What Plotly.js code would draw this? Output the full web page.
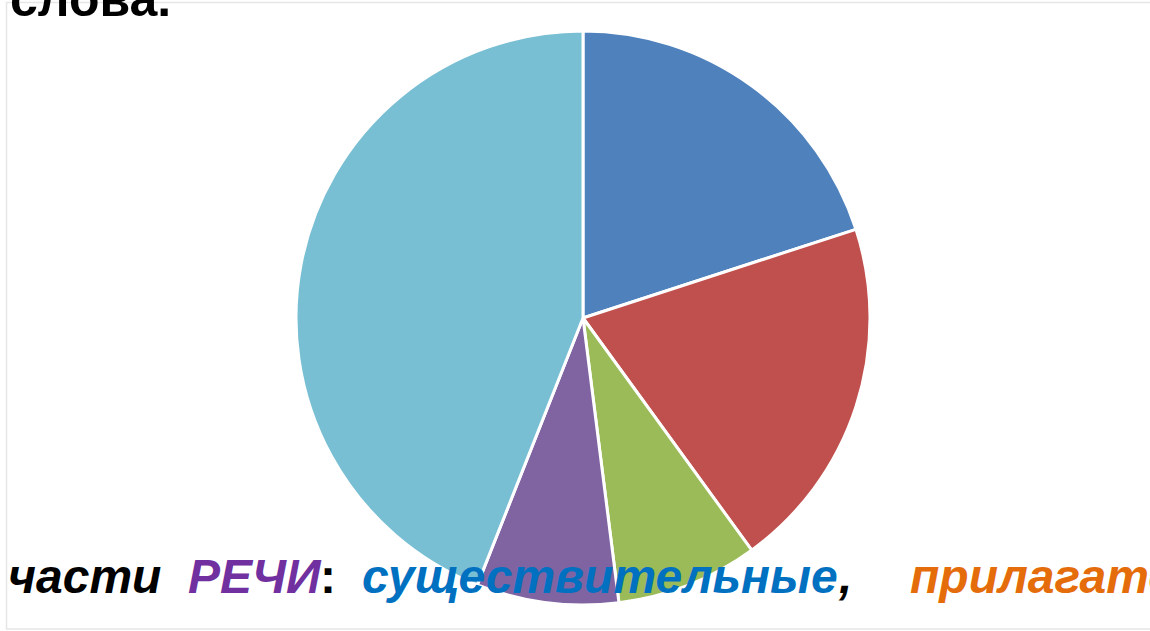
<!DOCTYPE html>
<html>
<head>
<meta charset="utf-8">
<script src="https://cdn.plot.ly/plotly-3.0.1.min.js"></script>
<style>html,body{margin:0;padding:0;background:#fff;}#chart{width:1150px;height:631px;}</style>
</head>
<body>
<div id="chart"></div>
<script>
// Data
const categories = ["Категория 1", "Категория 2", "Категория 3", "Категория 4", "Категория 5"];
const values = [5, 5, 2, 2, 11];
const sliceColors = ["#4F81BD", "#C0504D", "#9BBB59", "#8064A2", "#79BFD4"];

const topText = "слова.";
const bottomWords = ["части", "РЕЧИ", ":", "существительные", ",", "прилагательные"];
const bottomColors = ["#000000", "#7030A0", "#000000", "#0070C0", "#000000", "#E46C0A"];
const bottomX = [6, 186, 318, 360, 836, 908];
const bottomItalic = [true, true, false, true, true, true];

const W = 1150, H = 631;
const cx = 583, cy = 318, r = 287;

const trace = {
  type: "pie",
  labels: categories,
  values: values,
  sort: false,
  direction: "clockwise",
  rotation: 0,
  textinfo: "none",
  hoverinfo: "label+percent",
  marker: { colors: sliceColors, line: { color: "#ffffff", width: 3 } },
  domain: {
    x: [(cx - r) / W, (cx + r) / W],
    y: [(H - cy - r) / H, (H - cy + r) / H]
  }
};

const fontFam = "'Liberation Sans', Arial, sans-serif";
const annotations = [];
annotations.push({
  xref: "paper", yref: "paper", x: 8 / W, y: (H + 1) / H,
  xanchor: "left", yanchor: "middle", showarrow: false,
  text: "<b>" + topText + "</b>",
  font: { family: fontFam, size: 50, color: "#000000" }
});
for (let i = 0; i < bottomWords.length; i++) {
  let t = "<b>" + bottomWords[i] + "</b>";
  if (bottomItalic[i]) t = "<i>" + t + "</i>";
  annotations.push({
    xref: "paper", yref: "paper", x: bottomX[i] / W, y: (H - 576) / H,
    xanchor: "left", yanchor: "middle", showarrow: false,
    text: t,
    font: { family: fontFam, size: 48, color: bottomColors[i] }
  });
}

const layout = {
  width: W, height: H,
  margin: { l: 0, r: 0, t: 0, b: 0 },
  paper_bgcolor: "#ffffff",
  showlegend: false,
  annotations: annotations,
  shapes: [{
    type: "rect", xref: "paper", yref: "paper",
    x0: 6.5 / W, x1: 1.01, y0: (H - 629) / H, y1: (H - 2.5) / H,
    line: { color: "#e6e6e6", width: 1.5 }, fillcolor: "rgba(0,0,0,0)", layer: "below"
  }]
};

Plotly.newPlot("chart", [trace], layout, { displayModeBar: false, staticPlot: true });
</script>
</body>
</html>
